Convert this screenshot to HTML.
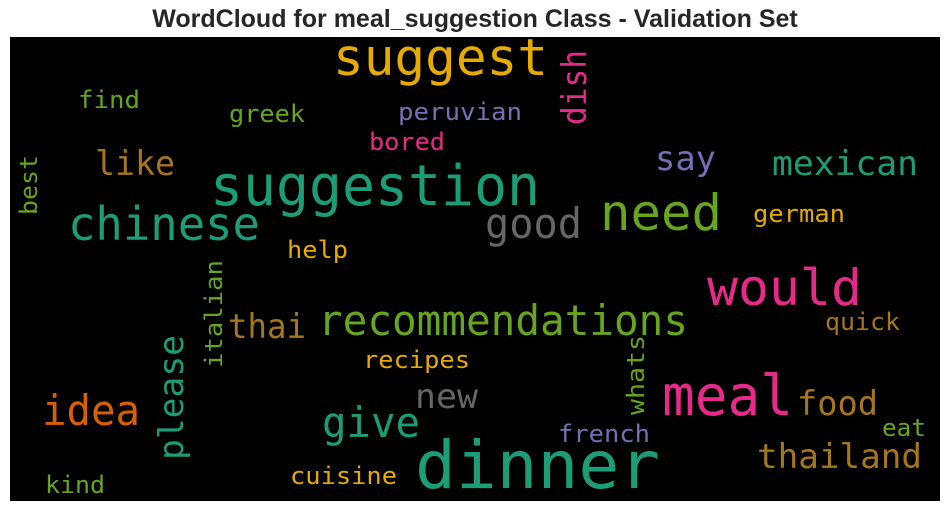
<!DOCTYPE html>
<html><head><meta charset="utf-8"><style>
html,body{margin:0;padding:0;background:#fff;width:950px;height:511px;overflow:hidden}
svg{display:block}
.w{font-family:"DejaVu Sans Mono","Liberation Mono",monospace}
</style></head><body>
<svg width="950" height="511" viewBox="0 0 950 511">
<text x="475" y="27" text-anchor="middle" font-family="Liberation Sans, Arial, sans-serif" font-weight="bold" font-size="25" fill="#262626">WordCloud for meal_suggestion Class - Validation Set</text>
<rect x="10" y="37" width="930" height="464" fill="#000"/>
<g class="w">
<text x="333" y="75" font-size="51" fill="#e6ab02" textLength="215" lengthAdjust="spacingAndGlyphs">suggest</text>
<text transform="translate(586,125) rotate(-90)" font-size="34" fill="#e7298a" textLength="75" lengthAdjust="spacingAndGlyphs">dish</text>
<text x="78" y="108" font-size="24" fill="#66a61e" textLength="62" lengthAdjust="spacingAndGlyphs">find</text>
<text x="229" y="122" font-size="24" fill="#66a61e" textLength="76" lengthAdjust="spacingAndGlyphs">greek</text>
<text x="398" y="120" font-size="24" fill="#7570b3" textLength="124" lengthAdjust="spacingAndGlyphs">peruvian</text>
<text x="369" y="150" font-size="24" fill="#e7298a" textLength="76" lengthAdjust="spacingAndGlyphs">bored</text>
<text x="95" y="175" font-size="34" fill="#a6761d" textLength="80" lengthAdjust="spacingAndGlyphs">like</text>
<text x="655" y="170" font-size="34" fill="#7570b3" textLength="61" lengthAdjust="spacingAndGlyphs">say</text>
<text x="772" y="175" font-size="34" fill="#1b9e77" textLength="146" lengthAdjust="spacingAndGlyphs">mexican</text>
<text transform="translate(37,215) rotate(-90)" font-size="24" fill="#66a61e" textLength="60" lengthAdjust="spacingAndGlyphs">best</text>
<text x="210" y="205" font-size="56" fill="#1b9e77" textLength="330" lengthAdjust="spacingAndGlyphs">suggestion</text>
<text x="68" y="240" font-size="46" fill="#1b9e77" textLength="192" lengthAdjust="spacingAndGlyphs">chinese</text>
<text x="485" y="238" font-size="42" fill="#666666" textLength="97" lengthAdjust="spacingAndGlyphs">good</text>
<text x="600" y="230" font-size="50" fill="#66a61e" textLength="122" lengthAdjust="spacingAndGlyphs">need</text>
<text x="753" y="222" font-size="24" fill="#e6ab02" textLength="92" lengthAdjust="spacingAndGlyphs">german</text>
<text x="287" y="258" font-size="24" fill="#e6ab02" textLength="61" lengthAdjust="spacingAndGlyphs">help</text>
<text transform="translate(222,368) rotate(-90)" font-size="24" fill="#66a61e" textLength="108" lengthAdjust="spacingAndGlyphs">italian</text>
<text x="707" y="305" font-size="50" fill="#e7298a" textLength="155" lengthAdjust="spacingAndGlyphs">would</text>
<text x="318" y="335" font-size="42" fill="#66a61e" textLength="370" lengthAdjust="spacingAndGlyphs">recommendations</text>
<text x="228" y="338" font-size="34" fill="#a6761d" textLength="78" lengthAdjust="spacingAndGlyphs">thai</text>
<text transform="translate(183,460) rotate(-90)" font-size="34" fill="#1b9e77" textLength="125" lengthAdjust="spacingAndGlyphs">please</text>
<text x="825" y="330" font-size="24" fill="#a6761d" textLength="75" lengthAdjust="spacingAndGlyphs">quick</text>
<text x="363" y="368" font-size="24" fill="#e6ab02" textLength="107" lengthAdjust="spacingAndGlyphs">recipes</text>
<text transform="translate(644,415) rotate(-90)" font-size="24" fill="#66a61e" textLength="80" lengthAdjust="spacingAndGlyphs">whats</text>
<text x="415" y="408" font-size="34" fill="#666666" textLength="63" lengthAdjust="spacingAndGlyphs">new</text>
<text x="662" y="415" font-size="56" fill="#e7298a" textLength="131" lengthAdjust="spacingAndGlyphs">meal</text>
<text x="42" y="425" font-size="42" fill="#d95f02" textLength="98" lengthAdjust="spacingAndGlyphs">idea</text>
<text x="797" y="415" font-size="34" fill="#a6761d" textLength="81" lengthAdjust="spacingAndGlyphs">food</text>
<text x="322" y="437" font-size="42" fill="#1b9e77" textLength="98" lengthAdjust="spacingAndGlyphs">give</text>
<text x="558" y="442" font-size="24" fill="#7570b3" textLength="92" lengthAdjust="spacingAndGlyphs">french</text>
<text x="882" y="436" font-size="24" fill="#66a61e" textLength="44" lengthAdjust="spacingAndGlyphs">eat</text>
<text x="415" y="488" font-size="66" fill="#1b9e77" textLength="245" lengthAdjust="spacingAndGlyphs">dinner</text>
<text x="757" y="468" font-size="34" fill="#a6761d" textLength="165" lengthAdjust="spacingAndGlyphs">thailand</text>
<text x="290" y="484" font-size="24" fill="#e6ab02" textLength="107" lengthAdjust="spacingAndGlyphs">cuisine</text>
<text x="45" y="493" font-size="24" fill="#66a61e" textLength="60" lengthAdjust="spacingAndGlyphs">kind</text>
</g>
</svg>
</body></html>
